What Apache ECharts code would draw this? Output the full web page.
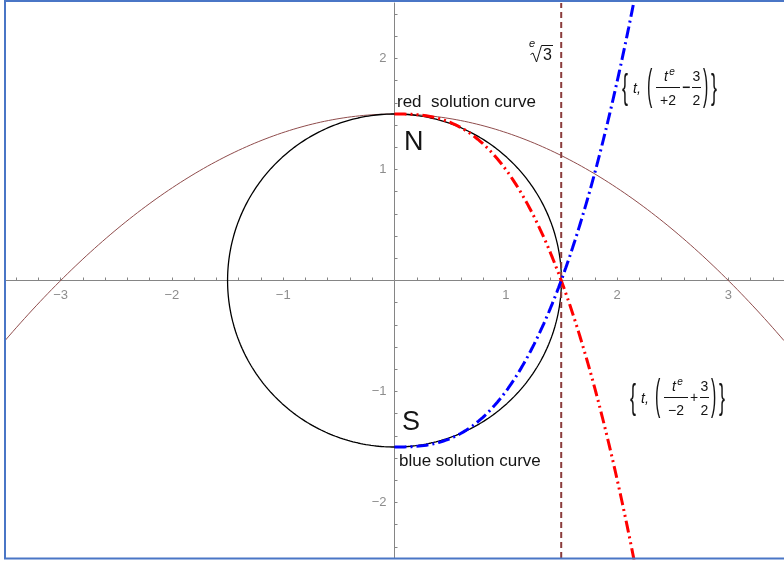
<!DOCTYPE html>
<html>
<head>
<meta charset="utf-8">
<script src="https://cdn.jsdelivr.net/npm/echarts@6/dist/echarts.min.js"></script>
<style>
  html, body { margin: 0; padding: 0; background: #ffffff; }
  #chart { width: 784px; height: 562px; }
</style>
</head>
<body>
<div id="chart"></div>
<script>
// ---- plot ranges and ticks ----
const xRange = [-3.5, 3.5];
const yRange = [-2.5, 2.5];
const xLabelTicks = [-3, -2, -1, 1, 2, 3];
const yLabelTicks = [-2, -1, 1, 2];
const xMinorTicks = [-3.4, -3.2, -3, -2.8, -2.6, -2.4, -2.2, -2, -1.8, -1.6, -1.4, -1.2, -1, -0.8, -0.6, -0.4, -0.2,
                     0.2, 0.4, 0.6, 0.8, 1, 1.2, 1.4, 1.6, 1.8, 2, 2.2, 2.4, 2.6, 2.8, 3, 3.2, 3.4];
const yMinorTicks = [-2.4, -2.2, -2, -1.8, -1.6, -1.4, -1.2, -1, -0.8, -0.6, -0.4, -0.2,
                     0.2, 0.4, 0.6, 0.8, 1, 1.2, 1.4, 1.6, 1.8, 2, 2.2, 2.4];

// ---- curve definitions ----
// circle of radius 3/2 through N (0, 3/2) and S (0, -3/2)
const circleRadius = [1.5];
// parabola y = c0 + c2 * x^2, crossing the x axis at ±3
const parabolaCoef = [1.5, -1 / 6];
// solution curves {t, t^e / d + s}
const redCurve = [-2, 1.5];   // d, s
const blueCurve = [2, -1.5];  // d, s
const curveT = [0, 2.2];      // parameter range of t
// vertical line at the e-th root of 3
const rootBase = [3];

const E = Math.E;

function sample(a, b, n, f) {
  const out = [];
  for (let i = 0; i <= n; i++) {
    const t = a + (b - a) * i / n;
    out.push(f(t));
  }
  return out;
}

const circleData = sample(0, 2 * Math.PI, 400, th => [circleRadius[0] * Math.cos(th), circleRadius[0] * Math.sin(th)]);
const parabolaData = sample(xRange[0], xRange[1], 200, x => [x, parabolaCoef[0] + parabolaCoef[1] * x * x]);
const redData = sample(curveT[0], curveT[1], 300, t => [t, Math.pow(t, E) / redCurve[0] + redCurve[1]]);
const blueData = sample(curveT[0], curveT[1], 300, t => [t, Math.pow(t, E) / blueCurve[0] + blueCurve[1]]);
const rootX = Math.pow(rootBase[0], 1 / E);
const rootData = [[rootX, yRange[0]], [rootX, yRange[1]]];

const FONT = '"Liberation Sans", Arial, Helvetica, sans-serif';
const AXIS_GREY = '#858585';
const LABEL_GREY = '#6f6f6f';
const minusFmt = v => (v < 0 ? '\u2212' + Math.abs(v) : String(v));

const chart = echarts.init(document.getElementById('chart'), null, { renderer: 'canvas' });

// tick labels sit next to the axes crossing at the origin
const tickLabel = (pos, dist) => ({
  show: true, position: pos, distance: dist,
  formatter: p => minusFmt(p.value[0] !== 0 ? p.value[0] : p.value[1]),
  color: LABEL_GREY, fontSize: 13, fontFamily: FONT
});

const option = {
  animation: false,
  backgroundColor: '#ffffff',
  grid: { left: 5, right: 0, top: 3, bottom: 4, containLabel: false, outerBoundsMode: 'none' },
  xAxis: {
    type: 'value', min: xRange[0], max: xRange[1],
    axisLine: { onZero: true, lineStyle: { color: AXIS_GREY, width: 1 } },
    axisTick: { show: true, inside: true, length: 3, customValues: xMinorTicks, lineStyle: { color: AXIS_GREY, width: 1 } },
    axisLabel: { show: false },
    splitLine: { show: false }
  },
  yAxis: {
    type: 'value', min: yRange[0], max: yRange[1],
    axisLine: { onZero: true, lineStyle: { color: AXIS_GREY, width: 1 } },
    axisTick: { show: true, inside: true, length: 3, customValues: yMinorTicks, lineStyle: { color: AXIS_GREY, width: 1 } },
    axisLabel: { show: false },
    splitLine: { show: false }
  },
  series: [
    { name: 'parabola', type: 'line', data: parabolaData, showSymbol: false, silent: true,
      lineStyle: { color: '#8f4c4c', width: 1 }, z: 2 },
    { name: 'circle', type: 'line', data: circleData, showSymbol: false, silent: true,
      lineStyle: { color: '#000000', width: 1.3 }, z: 3 },
    { name: 'root', type: 'line', data: rootData, showSymbol: false, silent: true,
      lineStyle: { color: '#8b3c3c', width: 2, type: [6, 4] }, z: 4 },
    { name: 'red', type: 'line', data: redData, showSymbol: false, silent: true, clip: true,
      lineStyle: { color: '#ff0000', width: 3, type: [12, 4, 2, 4, 2, 4] }, z: 5 },
    { name: 'blue', type: 'line', data: blueData, showSymbol: false, silent: true, clip: true,
      lineStyle: { color: '#0000ff', width: 3, type: [12, 4, 2, 4] }, z: 5 },
    { name: 'xTickLabels', type: 'scatter', silent: true, symbolSize: 0,
      data: xLabelTicks.map(v => [v, 0]), label: tickLabel('bottom', 8), z: 6 },
    { name: 'yTickLabels', type: 'scatter', silent: true, symbolSize: 0,
      data: yLabelTicks.map(v => [0, v]), label: tickLabel('left', 8), z: 6 }
  ]
};

chart.setOption(option);

// ---- annotations ----
function text(x, y, s, o) {
  o = o || {};
  return {
    type: 'text', x: x, y: y, z: 100, scaleX: o.sx || 1, scaleY: o.sy || 1,
    style: {
      text: s, fill: o.color || '#141414',
      fontSize: o.size || 14, fontFamily: FONT,
      fontStyle: o.italic ? 'italic' : 'normal',
      fontWeight: o.weight || 'normal',
      align: o.align || 'left', verticalAlign: 'middle'
    }
  };
}
function hline(x1, x2, y, w, c) {
  return { type: 'line', z: 100, shape: { x1: x1, y1: y, x2: x2, y2: y }, style: { stroke: c || '#141414', lineWidth: w || 1 } };
}

// {t, ( t^e / den  op  3/2 )}
function formula(x0, yl, den, op) {
  const els = [];
  els.push(text(x0, yl + 3, '{', { size: 18, sy: 1.9 }));
  els.push(text(x0 + 11, yl + 2, 't,', { size: 14, italic: true }));
  els.push(text(x0 + 25, yl, '(', { size: 16, sy: 2.7 }));
  // first fraction
  const f1a = x0 + 34, f1b = x0 + 58, f1c = (f1a + f1b) / 2;
  els.push(text(f1c - 2, yl - 10, 't', { size: 14, italic: true, align: 'center' }));
  els.push(text(f1c + 4, yl - 15, 'e', { size: 10, italic: true, align: 'center' }));
  els.push(hline(f1a, f1b, yl + 0.5, 1));
  els.push(text(f1c, yl + 14, den, { size: 14, align: 'center' }));
  // operator
  els.push(text(x0 + 64, yl + 1, op, { size: 14, align: 'center', weight: op === '\u2212' ? 'bold' : 'normal' }));
  // second fraction 3/2
  const f2a = x0 + 70, f2b = x0 + 79, f2c = (f2a + f2b) / 2;
  els.push(text(f2c, yl - 10, '3', { size: 14, align: 'center' }));
  els.push(hline(f2a, f2b, yl + 0.5, 1));
  els.push(text(f2c, yl + 14, '2', { size: 14, align: 'center' }));
  els.push(text(x0 + 81, yl, ')', { size: 16, sy: 2.7 }));
  els.push(text(x0 + 89, yl + 3, '}', { size: 18, sy: 1.9 }));
  return els;
}

const graphics = [];
// frame
graphics.push({ type: 'line', z: 200, shape: { x1: 5, y1: 0, x2: 5, y2: 559 }, style: { stroke: '#4a76c6', lineWidth: 2 } });
graphics.push({ type: 'line', z: 200, shape: { x1: 4, y1: 1, x2: 784, y2: 1 }, style: { stroke: '#4a76c6', lineWidth: 2 } });
graphics.push({ type: 'line', z: 200, shape: { x1: 4, y1: 558.5, x2: 784, y2: 558.5 }, style: { stroke: '#4a76c6', lineWidth: 2 } });

// curve captions
graphics.push(text(397, 102, 'red  solution curve', { size: 17 }));
graphics.push(text(404, 143, 'N', { size: 27 }));
graphics.push(text(402, 423, 'S', { size: 27 }));
graphics.push(text(399, 461, 'blue solution curve', { size: 17 }));

// e-th root of 3
graphics.push(text(532, 44, 'e', { size: 11, italic: true, align: 'center' }));
graphics.push({ type: 'polyline', z: 100, shape: { points: [[530.5, 54.5], [533, 53], [536.5, 62], [541.5, 45.5], [553, 45.5]] },
  style: { stroke: '#141414', lineWidth: 1, fill: null } });
graphics.push(text(547.5, 55.5, '3', { size: 16, align: 'center' }));

// curve formulas
formula(622, 87, '+2', '\u2212').forEach(g => graphics.push(g));
formula(630, 397, '\u22122', '+').forEach(g => graphics.push(g));

chart.setOption({ graphic: { elements: graphics } });
</script>
</body>
</html>
